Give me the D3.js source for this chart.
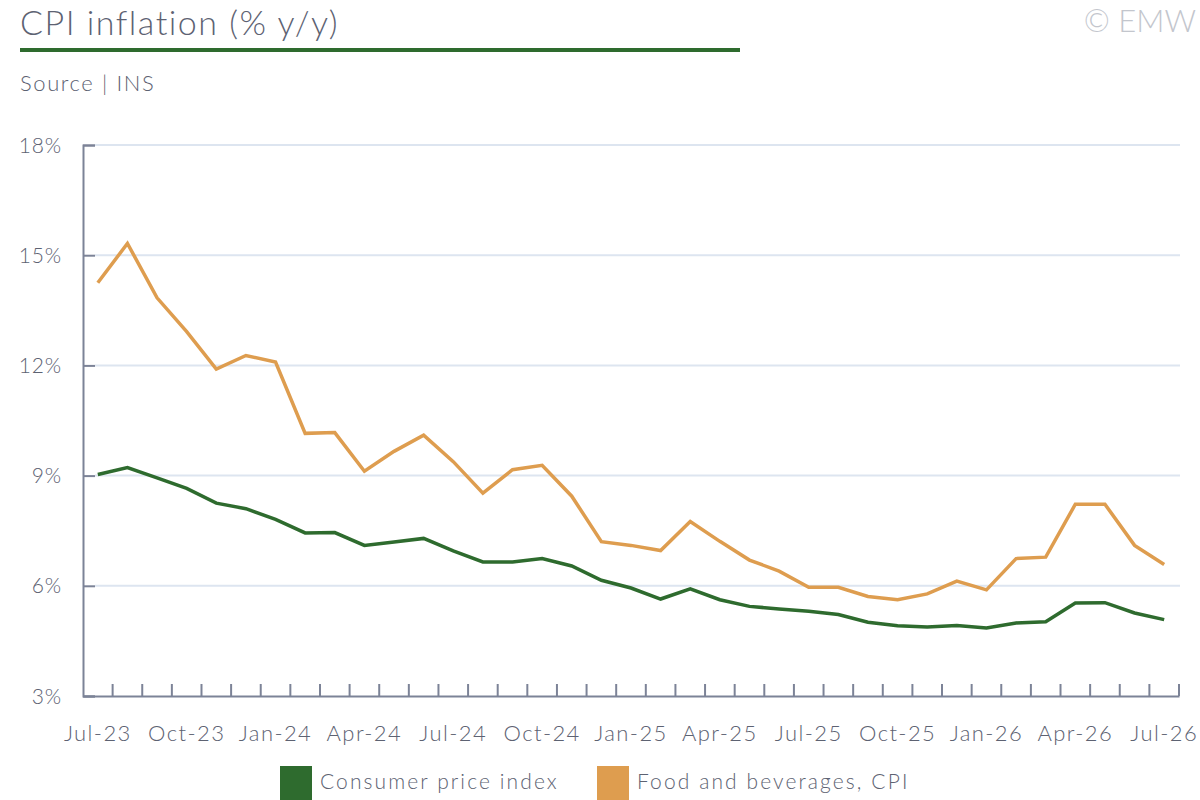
<!DOCTYPE html>
<html>
<head>
<meta charset="utf-8">
<script src="https://cdn.jsdelivr.net/npm/d3@7"></script>
<style>
  body { margin: 0; background: #fff; }
  svg { display: block; font-family: Lato, "Open Sans", sans-serif; }
</style>
</head>
<body>
<svg id="chart" width="1200" height="800"></svg>
<script>
const months = [
  "Jul-23", "Aug-23", "Sep-23", "Oct-23", "Nov-23", "Dec-23",
  "Jan-24", "Feb-24", "Mar-24", "Apr-24", "May-24", "Jun-24",
  "Jul-24", "Aug-24", "Sep-24", "Oct-24", "Nov-24", "Dec-24",
  "Jan-25", "Feb-25", "Mar-25", "Apr-25", "May-25", "Jun-25",
  "Jul-25", "Aug-25", "Sep-25", "Oct-25", "Nov-25", "Dec-25",
  "Jan-26", "Feb-26", "Mar-26", "Apr-26", "May-26", "Jun-26",
  "Jul-26"
];

// headline CPI, % y/y
const cpi = [
  9.03, 9.22, 8.94, 8.65, 8.25, 8.10,
  7.81, 7.44, 7.45, 7.10, 7.19, 7.29,
  6.95, 6.65, 6.65, 6.74, 6.54, 6.15,
  5.94, 5.64, 5.92, 5.62, 5.44, 5.37,
  5.31, 5.22, 5.01, 4.91, 4.88, 4.92,
  4.85, 4.99, 5.02, 5.53, 5.54, 5.26,
  5.08
];

// food and beverages, % y/y
const food = [
  14.25, 15.32, 13.84, 12.92, 11.90, 12.27,
  12.09, 10.15, 10.17, 9.12, 9.66, 10.10,
  9.38, 8.52, 9.16, 9.28, 8.44, 7.20,
  7.10, 6.96, 7.75, 7.21, 6.70, 6.40,
  5.96, 5.96, 5.71, 5.62, 5.78, 6.13,
  5.89, 6.74, 6.78, 8.22, 8.22, 7.10,
  6.58
];

const yTicks = [3, 6, 9, 12, 15, 18];
const xLabelEvery = 3;

const seriesNames = ["Consumer price index", "Food and beverages, CPI"];
const seriesColors = ["#2e6b2e", "#de9d4f"];

const textColor = "#5d6272";
const axisColor = "#7c8397";
const gridColor = "#dde5f0";
const font = "Lato, 'Open Sans', sans-serif";

const svg = d3.select("#chart");
const plotL = 83, plotR = 1179, plotT = 145, plotB = 696;

// header
svg.append("text").attr("x", 20).attr("y", 35)
  .attr("font-size", 34).attr("font-weight", 300).attr("letter-spacing", 1.5)
  .attr("fill", textColor).text("CPI inflation (% y/y)");
svg.append("rect").attr("x", 20).attr("y", 48).attr("width", 720).attr("height", 4)
  .attr("fill", seriesColors[0]);
svg.append("text").attr("x", 20).attr("y", 91)
  .attr("font-size", 22).attr("font-weight", 300).attr("letter-spacing", 1.6)
  .attr("fill", textColor).text("Source | INS");
svg.append("text").attr("x", 1196).attr("y", 32).attr("text-anchor", "end")
  .attr("font-size", 31).attr("font-weight", 300).attr("fill", "#c3c6cd")
  .text("© EMW");

const x = d3.scaleBand().domain(months).range([plotL, plotR]).paddingInner(0).paddingOuter(0);
const y = d3.scaleLinear().domain([3, 18]).range([plotB, plotT]);
const cx = d => x(d) + x.bandwidth() / 2;

// gridlines
svg.append("g").selectAll("line").data(yTicks.slice(1)).join("line")
  .attr("x1", plotL + 12).attr("x2", plotR + 1)
  .attr("y1", d => y(d)).attr("y2", d => y(d))
  .attr("stroke", gridColor).attr("stroke-width", 2);

// y axis
const yAxis = svg.append("g").attr("transform", `translate(${plotL},0)`)
  .call(d3.axisLeft(y).tickValues(yTicks).tickFormat(d => d + "%").tickSize(-12).tickPadding(21));
yAxis.select(".domain").attr("stroke", axisColor).attr("stroke-width", 2);
yAxis.selectAll(".tick line").attr("stroke", axisColor).attr("stroke-width", 2);
yAxis.selectAll(".tick text").attr("font-size", 21).attr("font-weight", 300)
  .attr("letter-spacing", 0.8).attr("dy", "0.34em")
  .attr("fill", textColor).attr("font-family", font);

// x axis: ticks at band edges, labels every third month
const xAxis = svg.append("g").attr("transform", `translate(0,${plotB})`)
  .call(d3.axisBottom(x).tickSize(0).tickPadding(29)
    .tickValues(months.filter((m, i) => i % xLabelEvery === 0)));
xAxis.select(".domain").attr("stroke", axisColor).attr("stroke-width", 2);
xAxis.selectAll(".tick text").attr("font-size", 22).attr("font-weight", 300)
  .attr("letter-spacing", 1.4)
  .attr("fill", textColor).attr("font-family", font);
const edges = months.map(m => x(m)).concat([plotR]).slice(1);
xAxis.selectAll(".edge").data(edges).join("line").attr("class", "edge")
  .attr("x1", d => d).attr("x2", d => d).attr("y1", 0).attr("y2", -12)
  .attr("stroke", axisColor).attr("stroke-width", 2);

// lines
const line = d3.line().x((d, i) => cx(months[i])).y(d => y(d));
[cpi, food].forEach((s, k) => {
  svg.append("path").datum(s)
    .attr("fill", "none").attr("stroke", seriesColors[k])
    .attr("stroke-width", 3.5).attr("stroke-linejoin", "miter")
    .attr("d", line);
});

// legend
const legendX = [280, 597];
const lg = svg.append("g").selectAll("g").data(seriesNames).join("g")
  .attr("transform", (d, i) => `translate(${legendX[i]},766)`);
lg.append("rect").attr("width", 32).attr("height", 34)
  .attr("fill", (d, i) => seriesColors[i]);
lg.append("text").attr("x", 40).attr("y", 23)
  .attr("font-size", 21).attr("font-weight", 300).attr("letter-spacing", 2.1)
  .attr("fill", textColor).text(d => d);
</script>
</body>
</html>
